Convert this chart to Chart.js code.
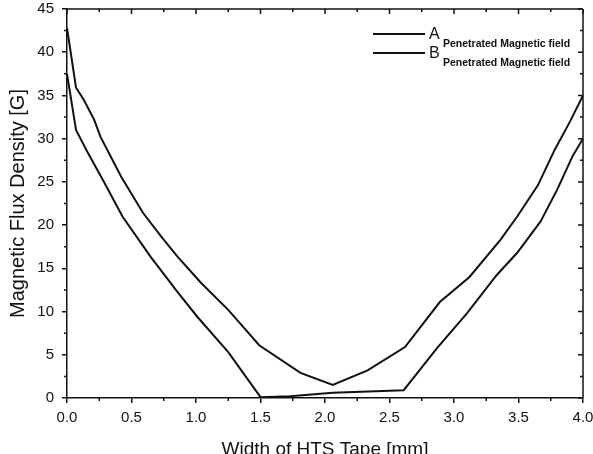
<!DOCTYPE html>
<html>
<head>
<meta charset="utf-8">
<script src="https://cdn.jsdelivr.net/npm/chart.js@4/dist/chart.umd.min.js"></script>
<style>
  html, body { margin: 0; padding: 0; background: #fff; overflow: hidden; }
  #wrap { width: 593px; height: 454px; overflow: hidden; }
</style>
</head>
<body>
<div id="wrap"><canvas id="c" width="593" height="470"></canvas></div>
<script>
// width positions [mm] and flux density [G]
const xA = [0, 0.07, 0.13, 0.21, 0.26, 0.42, 0.59, 0.74, 0.86, 1.04, 1.25, 1.49, 1.81, 2.06, 2.33, 2.62, 2.89, 3.12, 3.36, 3.49, 3.65, 3.78, 3.9, 4.0];
const valuesA = [42.8, 35.9, 34.5, 32.2, 30.2, 25.6, 21.4, 18.5, 16.3, 13.3, 10.2, 6.1, 2.9, 1.5, 3.2, 5.9, 11.1, 14.0, 18.3, 21.0, 24.6, 28.7, 32.0, 35.0];

const xB = [0, 0.07, 0.15, 0.29, 0.43, 0.65, 0.85, 1.01, 1.25, 1.5, 1.73, 2.06, 2.61, 2.87, 3.1, 3.33, 3.49, 3.67, 3.8, 3.92, 4.0];
const valuesB = [37.5, 31.0, 28.7, 24.9, 21.0, 16.3, 12.4, 9.4, 5.3, 0.1, 0.2, 0.6, 0.9, 5.8, 9.8, 14.2, 16.8, 20.4, 24.1, 28.0, 30.0];

const seriesNames = ['A', 'B'];
const seriesSub = 'Penetrated Magnetic field';

const xTitle = 'Width of HTS Tape [mm]';
const yTitle = 'Magnetic Flux Density [G]';

const FONT = "'Liberation Sans', Arial, sans-serif";

function pts(xs, ys) {
  return xs.map((x, i) => ({ x: x, y: ys[i] }));
}

// frame, minor ticks, top/right inward ticks and the legend with subscripts
const framePlugin = {
  id: 'frame',
  afterDraw(chart) {
    const ctx = chart.ctx;
    const a = chart.chartArea;
    const xs = chart.scales.x, ys = chart.scales.y;
    ctx.save();
    ctx.strokeStyle = '#111';
    ctx.lineWidth = 1.5;
    ctx.beginPath();
    ctx.moveTo(a.left, a.top); ctx.lineTo(a.right, a.top);
    ctx.moveTo(a.right, a.top); ctx.lineTo(a.right, a.bottom);
    ctx.stroke();

    ctx.beginPath();
    for (let v = 0; v <= 4.0001; v += 0.25) {
      const px = xs.getPixelForValue(v);
      const major = Math.abs(v * 2 - Math.round(v * 2)) < 1e-6;
      const len = major ? 5 : 3;
      ctx.moveTo(px, a.top); ctx.lineTo(px, a.top + len);
      if (!major) { ctx.moveTo(px, a.bottom); ctx.lineTo(px, a.bottom + len); }
    }
    for (let v = 0; v <= 45.0001; v += 2.5) {
      const py = ys.getPixelForValue(v);
      const major = Math.abs(v / 5 - Math.round(v / 5)) < 1e-6;
      const len = major ? 5 : 3;
      ctx.moveTo(a.right, py); ctx.lineTo(a.right - len, py);
      if (!major) { ctx.moveTo(a.left, py); ctx.lineTo(a.left - len, py); }
    }
    ctx.stroke();

    // legend
    const rows = [34, 53];
    chart.data.datasets.forEach((ds, i) => {
      const y = rows[i];
      ctx.strokeStyle = ds.borderColor;
      ctx.lineWidth = ds.borderWidth;
      ctx.beginPath();
      ctx.moveTo(373, y); ctx.lineTo(425, y);
      ctx.stroke();
      ctx.fillStyle = '#111';
      ctx.textBaseline = 'alphabetic';
      ctx.textAlign = 'left';
      ctx.font = '16px ' + FONT;
      ctx.fillText(seriesNames[i], 429, y + 5);
      ctx.font = 'bold 10.5px ' + FONT;
      ctx.fillText(seriesSub, 443, y + 13);
    });
    ctx.restore();
  }
};

new Chart(document.getElementById('c'), {
  type: 'line',
  data: {
    datasets: [
      {
        label: seriesNames[0] + ' ' + seriesSub,
        data: pts(xA, valuesA),
        borderColor: '#111',
        borderWidth: 2,
        pointRadius: 0,
        tension: 0,
        fill: false
      },
      {
        label: seriesNames[1] + ' ' + seriesSub,
        data: pts(xB, valuesB),
        borderColor: '#111',
        borderWidth: 2,
        pointRadius: 0,
        tension: 0,
        fill: false
      }
    ]
  },
  options: {
    responsive: false,
    animation: false,
    devicePixelRatio: 1,
    layout: { padding: { top: 9, right: 10, left: 0, bottom: 0 } },
    plugins: {
      legend: { display: false },
      tooltip: { enabled: false }
    },
    scales: {
      x: {
        type: 'linear',
        min: 0,
        max: 4,
        afterFit(s) { s.height = 72; s.paddingLeft = 0; s.paddingRight = 0; },
        ticks: {
          stepSize: 0.5,
          color: '#111',
          padding: 6,
          maxRotation: 0,
          font: { family: FONT, size: 15 },
          callback: v => v.toFixed(1)
        },
        grid: { display: true, drawOnChartArea: false, drawTicks: true, tickLength: 5, color: '#111', lineWidth: 1.5 },
        border: { display: true, color: '#111', width: 1.5 },
        title: {
          display: true,
          text: xTitle,
          color: '#111',
          font: { family: FONT, size: 19 },
          padding: { top: 0, bottom: 9 }
        }
      },
      y: {
        min: 0,
        max: 45,
        afterFit(s) { s.width = 67; s.paddingTop = 0; s.paddingBottom = 0; },
        ticks: {
          stepSize: 5,
          color: '#111',
          padding: 8,
          font: { family: FONT, size: 15 }
        },
        grid: { display: true, drawOnChartArea: false, drawTicks: true, tickLength: 5, color: '#111', lineWidth: 1.5 },
        border: { display: true, color: '#111', width: 1.5 },
        title: {
          display: true,
          text: yTitle,
          color: '#111',
          font: { family: FONT, size: 20 },
          padding: { top: 6, bottom: 0 }
        }
      }
    }
  },
  plugins: [framePlugin]
});
</script>
</body>
</html>
